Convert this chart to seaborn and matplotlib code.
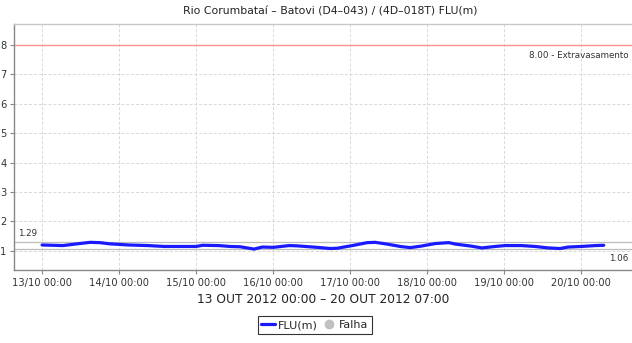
import matplotlib
matplotlib.use("Agg")
import matplotlib.pyplot as plt
import matplotlib.dates as mdates
from matplotlib.lines import Line2D
import seaborn as sns
import pandas as pd

# Hours since 13/10/2012 00:00 and river level FLU (m)
hours = [0, 6.5, 11, 15, 18, 21, 27, 33, 38, 43, 48, 50, 55, 58.6, 61.7, 65, 66,
         68.6, 72, 77, 79.5, 85.7, 89.8, 92, 94, 96.7, 101.3, 103.8, 107.5, 111.6,
         114.7, 118, 122.6, 126.7, 128.8, 133.8, 137, 141.2, 144.3, 149.3, 153.6,
         157.7, 161.4, 163.9, 168, 172.4, 175]
flu = [1.20, 1.18, 1.24, 1.29, 1.28, 1.24, 1.20, 1.18, 1.15, 1.15, 1.15, 1.19,
       1.18, 1.15, 1.14, 1.08, 1.06, 1.13, 1.12, 1.18, 1.17, 1.12, 1.08, 1.09,
       1.13, 1.18, 1.28, 1.29, 1.23, 1.15, 1.11, 1.16, 1.25, 1.28, 1.23, 1.16,
       1.10, 1.15, 1.18, 1.18, 1.15, 1.10, 1.08, 1.13, 1.15, 1.18, 1.19]

flood_level = 8.00
flood_label = "Extravasamento"
max_level = 1.29
min_level = 1.06

title = "Rio Corumbataí – Batovi (D4–043) / (4D–018T) FLU(m)"
period = "13 OUT 2012 00:00 – 20 OUT 2012 07:00"
start = pd.Timestamp("2012-10-13 00:00")

df = pd.DataFrame({"time": [start + pd.Timedelta(hours=h) for h in hours],
                   "FLU(m)": flu})

sns.set_theme(style="white")
plt.rcParams["font.family"] = ["DejaVu Sans"]

fig = plt.figure(figsize=(6.32, 3.43), dpi=100)
ax = fig.add_axes([14 / 632, 1 - 270 / 343, 1 - 14 / 632, (270 - 24) / 343])

sns.lineplot(data=df, x="time", y="FLU(m)", ax=ax, color="#1a1aff", lw=2.3)

# reference lines
ax.axhline(flood_level, color="#ff9090", lw=1.0, zorder=1)
ax.axhline(max_level, color="#bdbdbd", lw=0.9, zorder=1)
ax.axhline(min_level, color="#bdbdbd", lw=0.9, zorder=1)

xmin = start - pd.Timedelta(hours=8.75)
xmax = start + pd.Timedelta(hours=183.8)
ax.set_xlim(xmin, xmax)
ax.set_ylim(0.35, 8.71)

ax.text(0.994, flood_level - 0.2, f"{flood_level:.2f} - {flood_label}",
        transform=ax.get_yaxis_transform(), ha="right", va="top",
        fontsize=6.3, color="#333333")
ax.text(0.007, max_level + 0.15, f"{max_level:.2f}",
        transform=ax.get_yaxis_transform(), ha="left", va="bottom",
        fontsize=6.3, color="#333333")
ax.text(0.994, min_level - 0.15, f"{min_level:.2f}",
        transform=ax.get_yaxis_transform(), ha="right", va="top",
        fontsize=6.3, color="#333333")

ax.set_yticks(range(1, 9))
ax.xaxis.set_major_locator(mdates.DayLocator())
ax.xaxis.set_major_formatter(mdates.DateFormatter("%d/%m %H:%M"))
ax.grid(True, color="#d8d8d8", ls=(0, (3, 2)), lw=0.7)

for lab in ax.get_xticklabels() + ax.get_yticklabels():
    lab.set_fontsize(7.1)
    lab.set_color("#333333")
ax.tick_params(axis="both", length=3, width=0.8, color="#888888", pad=2.5,
               bottom=True, left=True)

ax.set_xlabel(period, fontsize=8.8, color="#222222", labelpad=4)
ax.set_ylabel("")

for side in ["left", "bottom"]:
    ax.spines[side].set_color("#888888")
    ax.spines[side].set_linewidth(1.0)
ax.spines["top"].set_color("#c8c8c8")
ax.spines["top"].set_linewidth(1.0)
ax.spines["right"].set_visible(False)

fig.text(0.522, 1 - 11 / 343, title, ha="center", va="center",
         fontsize=7.8, color="#222222")

handles = [Line2D([], [], color="#1a1aff", lw=2.3),
           Line2D([], [], ls="none", marker="o", ms=6, color="#c0c0c0")]
leg = fig.legend(handles, ["FLU(m)", "Falha"], loc="center",
                 bbox_to_anchor=(315 / 632, 1 - 325 / 343), ncol=2,
                 frameon=True, fancybox=False, fontsize=8,
                 handlelength=1.2, handletextpad=0.3, columnspacing=0.4,
                 borderpad=0.35, borderaxespad=0)
leg.get_frame().set_edgecolor("black")
leg.get_frame().set_linewidth(0.8)

fig.savefig("out.png", dpi=100)
